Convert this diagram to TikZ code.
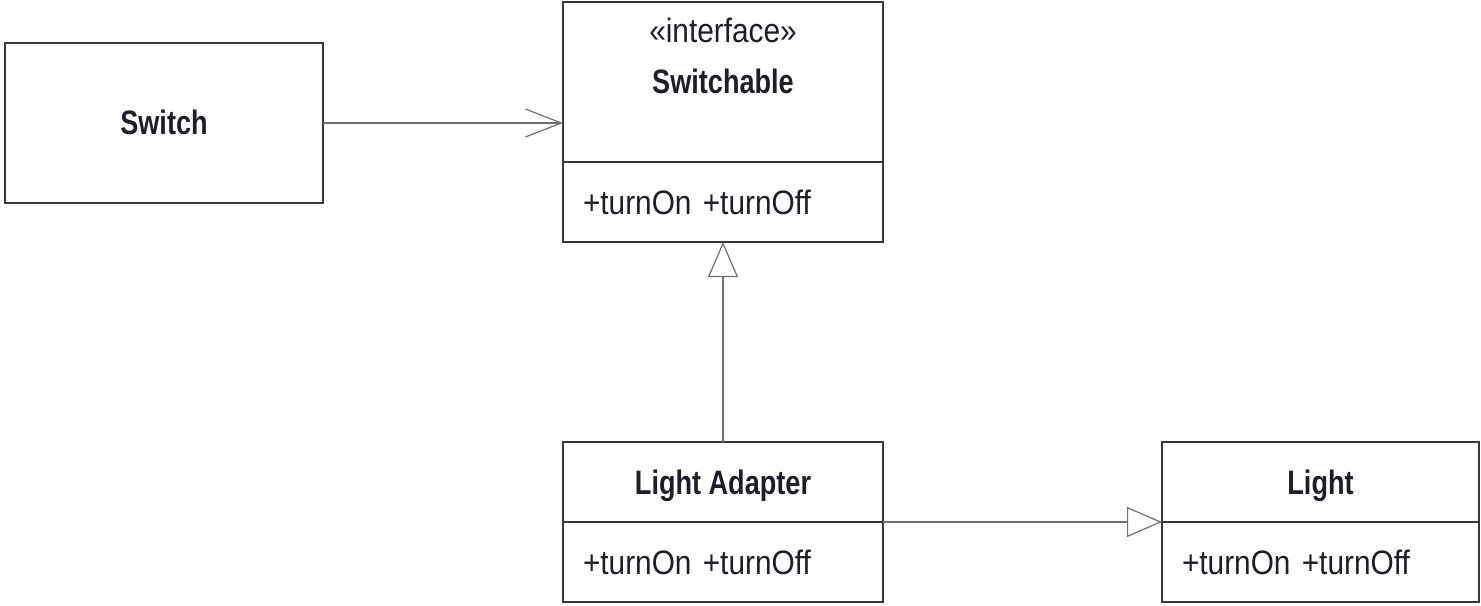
\documentclass[tikz,border=0pt]{standalone}
\usepackage{fontspec}
\setmainfont{Liberation Sans}[FakeStretch=0.88, Ligatures=NoCommon]
\newfontfamily\namefont{Liberation Sans Bold}[FakeStretch=0.80]
\usetikzlibrary{positioning,arrows.meta}

\definecolor{boxline}{HTML}{383838}
\definecolor{linkline}{HTML}{707070}
\definecolor{ink}{HTML}{1E1E28}

\tikzset{
  classbox/.style={draw=boxline, line width=1.4bp, outer sep=0pt, inner sep=0pt,
    text=ink, text height=24bp, text depth=0pt,
    font=\fontsize{34}{40}\selectfont\namefont},
  opsbox/.style={classbox, minimum width=320bp, minimum height=80bp,
    text width=280bp, inner xsep=20bp, align=left,
    font=\fontsize{34}{40}\selectfont},
  link/.style={draw=linkline, line width=1.2bp},
  realizes/.style={link, -{Triangle[open, length=35bp, width=30bp, fill=white]}},
  uses/.style={link, -{Straight Barb[length=36bp, width=28bp]}}
}

\begin{document}
\begin{tikzpicture}[x=1bp, y=-1bp]
\useasboundingbox (0,0) rectangle (1481,606);

% classes
\node[classbox, minimum width=318bp, minimum height=160bp] (switch) at (164,123) {Switch};

\node[classbox, minimum width=320bp, minimum height=160bp] (switchable) at (723,82) {};
\node[anchor=base, text=ink, font=\fontsize{34}{40}\selectfont] (stereotype)
    at ([yshift=-41bp]switchable.north) {«interface»};
\node[anchor=base, text=ink, font=\fontsize{34}{40}\selectfont\namefont] (switchablename)
    at ([yshift=-92bp]switchable.north) {Switchable};
\node[opsbox, below=0pt of switchable] (switchableops) {+turnOn +turnOff};

\node[classbox, minimum width=320bp, minimum height=80bp] (adapter) at (723,482) {Light Adapter};
\node[opsbox, below=0pt of adapter] (adapterops) {+turnOn +turnOff};

\node[classbox, minimum width=317bp, minimum height=80bp] (light) at (1320.5,482) {Light};
\node[opsbox, minimum width=317bp, text width=277bp, below=0pt of light] (lightops) {+turnOn +turnOff};

% relations
\draw[uses] (switch.east) -- (switch.east -| switchable.west);
\draw[realizes] (adapter.north) -- (switchableops.south);
\draw[realizes] (adapter.south east) -- (light.south west);

\end{tikzpicture}
\end{document}
